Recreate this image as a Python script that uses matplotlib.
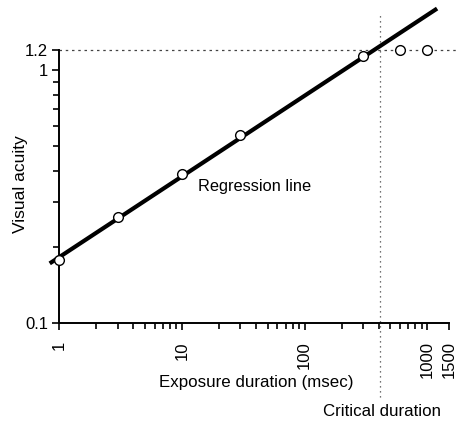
import matplotlib
matplotlib.use("Agg")
import matplotlib.pyplot as plt
import matplotlib.transforms as mtransforms
from matplotlib.ticker import FixedLocator, NullFormatter, FixedFormatter

plt.rcParams['font.family'] = ['Liberation Sans', 'DejaVu Sans']

# Data
exposure_ms = [1, 3, 10, 30, 300, 600, 1000]
acuity = [0.178, 0.262, 0.389, 0.556, 1.137, 1.2, 1.2]
reg_x = [0.84, 1200]
reg_y = [0.172, 1.75]
critical_duration = 410
plateau = 1.2
x_major = [1, 10, 100, 1000, 1500]
x_major_labels = ['1', '10', '100', '1000', '1500']
y_major = [0.1, 1, 1.2]
y_major_labels = ['0.1', '1', '1.2']

W, H = 457, 422
fig = plt.figure(figsize=(W / 100, H / 100), dpi=100)
ax = fig.add_axes([59 / W, 1 - 323 / H, 390 / W, 273 / H])
ax.set_xscale('log')
ax.set_yscale('log')
ax.set_xlim(1, 1500)
ax.set_ylim(0.1, 1.2)

ax.spines['top'].set_visible(False)
ax.spines['right'].set_visible(False)
for s in ('left', 'bottom'):
    ax.spines[s].set_linewidth(1.4)

# regression line
ax.plot(reg_x, reg_y, color='black', lw=3.0, clip_on=False, zorder=3,
        solid_capstyle='butt')
# data points
ax.plot(exposure_ms, acuity, 'o', mfc='white', mec='black', mew=1.0, ms=7,
        clip_on=False, zorder=4)

# dotted reference lines
trans_x = mtransforms.blended_transform_factory(ax.transData, ax.transAxes)
ax.plot([critical_duration, critical_duration], [-0.271, 1.128], transform=trans_x,
        color='#444444', lw=0.9, ls=(0, (1, 3)), clip_on=False, zorder=2)
trans_y = mtransforms.blended_transform_factory(ax.transAxes, ax.transData)
ax.plot([0, 1.02], [plateau, plateau], transform=trans_y,
        color='#444444', lw=0.9, ls=(0, (2, 3)), clip_on=False, zorder=2)

# ticks
ax.xaxis.set_major_locator(FixedLocator(x_major))
ax.xaxis.set_major_formatter(FixedFormatter(x_major_labels))
ax.xaxis.set_minor_locator(FixedLocator([2, 3, 4, 5, 6, 7, 8, 9,
                                         20, 30, 40, 50, 60, 70, 80, 90,
                                         200, 300, 400, 500, 600, 700, 800, 900]))
ax.xaxis.set_minor_formatter(NullFormatter())
ax.yaxis.set_major_locator(FixedLocator(y_major))
ax.yaxis.set_major_formatter(FixedFormatter(y_major_labels))
ax.yaxis.set_minor_locator(FixedLocator([0.2, 0.3, 0.4, 0.5, 0.6, 0.7, 0.8, 0.9]))
ax.yaxis.set_minor_formatter(NullFormatter())
ax.tick_params(axis='both', which='major', length=5, width=1.2, labelsize=12, pad=3)
ax.tick_params(axis='x', which='major', pad=8)
ax.tick_params(axis='both', which='minor', length=4, width=1.2)
for lab in ax.get_xticklabels():
    lab.set_rotation(90)

fig.text(21 / W, 1 - 184 / H, 'Visual acuity', fontsize=12.5, rotation=90,
         ha='center', va='center')
fig.text(256 / W, 1 - 383 / H, 'Exposure duration (msec)', fontsize=12.2,
         ha='center', va='center')
ax.text(0.357, 0.5, 'Regression line', transform=ax.transAxes, fontsize=11.8,
        ha='left', va='center')
fig.text(323 / W, 1 - 412 / H, 'Critical duration', fontsize=12.2, ha='left', va='center')

fig.savefig('out.png', dpi=100)
